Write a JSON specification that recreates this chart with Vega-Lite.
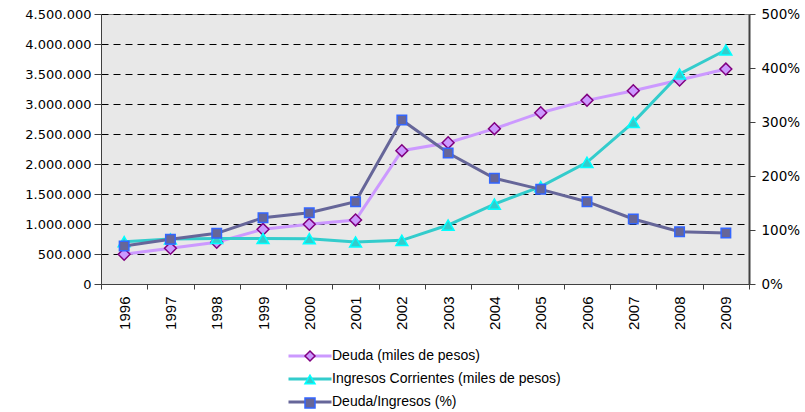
{
  "$schema": "https://vega.github.io/schema/vega-lite/v6.json",
  "width": 648,
  "height": 270,
  "autosize": {"type": "none"},
  "padding": {"left": 101, "top": 14, "right": 56, "bottom": 128},
  "background": "white",
  "config": {
    "view": {"fill": "#E8E8E8", "stroke": "#808080", "strokeWidth": 1},
    "font": "Liberation Sans"
  },
  "data": {
    "values": [
      {"year": "1996", "serie": "Deuda (miles de pesos)", "m": "a", "eje": "izq", "valor": 495000},
      {"year": "1997", "serie": "Deuda (miles de pesos)", "m": "a", "eje": "izq", "valor": 595000},
      {"year": "1998", "serie": "Deuda (miles de pesos)", "m": "a", "eje": "izq", "valor": 695000},
      {"year": "1999", "serie": "Deuda (miles de pesos)", "m": "a", "eje": "izq", "valor": 912000},
      {"year": "2000", "serie": "Deuda (miles de pesos)", "m": "a", "eje": "izq", "valor": 995000},
      {"year": "2001", "serie": "Deuda (miles de pesos)", "m": "a", "eje": "izq", "valor": 1067000},
      {"year": "2002", "serie": "Deuda (miles de pesos)", "m": "a", "eje": "izq", "valor": 2222000},
      {"year": "2003", "serie": "Deuda (miles de pesos)", "m": "a", "eje": "izq", "valor": 2355000},
      {"year": "2004", "serie": "Deuda (miles de pesos)", "m": "a", "eje": "izq", "valor": 2589000},
      {"year": "2005", "serie": "Deuda (miles de pesos)", "m": "a", "eje": "izq", "valor": 2855000},
      {"year": "2006", "serie": "Deuda (miles de pesos)", "m": "a", "eje": "izq", "valor": 3061000},
      {"year": "2007", "serie": "Deuda (miles de pesos)", "m": "a", "eje": "izq", "valor": 3222000},
      {"year": "2008", "serie": "Deuda (miles de pesos)", "m": "a", "eje": "izq", "valor": 3400000},
      {"year": "2009", "serie": "Deuda (miles de pesos)", "m": "a", "eje": "izq", "valor": 3583000},
      {"year": "1996", "serie": "Ingresos Corrientes (miles de pesos)", "m": "b", "eje": "izq", "valor": 705000},
      {"year": "1997", "serie": "Ingresos Corrientes (miles de pesos)", "m": "b", "eje": "izq", "valor": 750000},
      {"year": "1998", "serie": "Ingresos Corrientes (miles de pesos)", "m": "b", "eje": "izq", "valor": 760000},
      {"year": "1999", "serie": "Ingresos Corrientes (miles de pesos)", "m": "b", "eje": "izq", "valor": 760000},
      {"year": "2000", "serie": "Ingresos Corrientes (miles de pesos)", "m": "b", "eje": "izq", "valor": 755000},
      {"year": "2001", "serie": "Ingresos Corrientes (miles de pesos)", "m": "b", "eje": "izq", "valor": 700000},
      {"year": "2002", "serie": "Ingresos Corrientes (miles de pesos)", "m": "b", "eje": "izq", "valor": 728000},
      {"year": "2003", "serie": "Ingresos Corrientes (miles de pesos)", "m": "b", "eje": "izq", "valor": 983000},
      {"year": "2004", "serie": "Ingresos Corrientes (miles de pesos)", "m": "b", "eje": "izq", "valor": 1333000},
      {"year": "2005", "serie": "Ingresos Corrientes (miles de pesos)", "m": "b", "eje": "izq", "valor": 1622000},
      {"year": "2006", "serie": "Ingresos Corrientes (miles de pesos)", "m": "b", "eje": "izq", "valor": 2028000},
      {"year": "2007", "serie": "Ingresos Corrientes (miles de pesos)", "m": "b", "eje": "izq", "valor": 2694000},
      {"year": "2008", "serie": "Ingresos Corrientes (miles de pesos)", "m": "b", "eje": "izq", "valor": 3500000},
      {"year": "2009", "serie": "Ingresos Corrientes (miles de pesos)", "m": "b", "eje": "izq", "valor": 3900000},
      {"year": "1996", "serie": "Deuda/Ingresos (%)", "m": "c", "eje": "der", "valor": 70.4},
      {"year": "1997", "serie": "Deuda/Ingresos (%)", "m": "c", "eje": "der", "valor": 82.7},
      {"year": "1998", "serie": "Deuda/Ingresos (%)", "m": "c", "eje": "der", "valor": 93.8},
      {"year": "1999", "serie": "Deuda/Ingresos (%)", "m": "c", "eje": "der", "valor": 122.8},
      {"year": "2000", "serie": "Deuda/Ingresos (%)", "m": "c", "eje": "der", "valor": 132.0},
      {"year": "2001", "serie": "Deuda/Ingresos (%)", "m": "c", "eje": "der", "valor": 152.4},
      {"year": "2002", "serie": "Deuda/Ingresos (%)", "m": "c", "eje": "der", "valor": 303.7},
      {"year": "2003", "serie": "Deuda/Ingresos (%)", "m": "c", "eje": "der", "valor": 242.6},
      {"year": "2004", "serie": "Deuda/Ingresos (%)", "m": "c", "eje": "der", "valor": 195.7},
      {"year": "2005", "serie": "Deuda/Ingresos (%)", "m": "c", "eje": "der", "valor": 175.3},
      {"year": "2006", "serie": "Deuda/Ingresos (%)", "m": "c", "eje": "der", "valor": 152.4},
      {"year": "2007", "serie": "Deuda/Ingresos (%)", "m": "c", "eje": "der", "valor": 120.4},
      {"year": "2008", "serie": "Deuda/Ingresos (%)", "m": "c", "eje": "der", "valor": 96.9},
      {"year": "2009", "serie": "Deuda/Ingresos (%)", "m": "c", "eje": "der", "valor": 94.4}
    ]
  },
  "encoding": {
    "x": {
      "field": "year", "type": "ordinal", "title": null,
      "scale": {"paddingInner": 0, "paddingOuter": 0},
      "axis": {
        "labelAngle": -90, "labelFont": "Liberation Sans", "labelFontSize": 15, "labelColor": "#000000",
        "tickBand": "extent", "tickSize": 5, "tickColor": "#404040", "domainColor": "#404040",
        "labelPadding": 7, "grid": false
      }
    }
  },
  "layer": [
    {
      "transform": [{"filter": "datum.eje == 'izq'"}],
      "encoding": {
        "y": {
          "field": "valor", "type": "quantitative", "title": null,
          "scale": {"domain": [0, 4500000], "nice": false, "zero": true},
          "axis": {
            "orient": "left", "values": [0, 500000, 1000000, 1500000, 2000000, 2500000, 3000000, 3500000, 4000000, 4500000],
            "labelExpr": "replace(format(datum.value, ','), /,/g, '.')",
            "labelFont": "DejaVu Sans", "labelFontSize": 13, "labelColor": "#000000",
            "tickSize": 7, "tickColor": "#404040", "domainColor": "#404040", "labelPadding": 3,
            "grid": true, "gridColor": "#000000", "gridDash": [7, 5], "gridWidth": 1
          }
        }
      },
      "layer": [
        {
          "mark": {"type": "line", "strokeWidth": 3},
          "encoding": {
            "color": {
              "field": "serie", "type": "nominal",
              "scale": {"domain": ["Deuda (miles de pesos)", "Ingresos Corrientes (miles de pesos)", "Deuda/Ingresos (%)"], "range": ["#CC99FF", "#33CCCC", "#666699"]},
              "legend": {
                "orient": "none", "legendX": 202, "legendY": 335, "title": null, "direction": "vertical", "padding": 0,
                "symbolType": "M-4.3,0L4.3,0", "symbolSize": 100, "symbolStrokeWidth": 3,
                "labelFont": "Liberation Sans", "labelFontSize": 14, "labelColor": "#000000", "labelLimit": 0,
                "labelOffset": 15, "rowPadding": 9
              }
            }
          }
        },
        {
          "mark": {"type": "point", "filled": true, "size": 140, "strokeWidth": 1.5, "opacity": 1},
          "encoding": {
            "shape": {
              "field": "m", "type": "nominal", "scale": {"domain": ["a", "b", "c"], "range": ["diamond", "triangle-up", "square"]},
              "legend": {
                "orient": "none", "legendX": 202, "legendY": 335, "title": null, "direction": "vertical", "padding": 0,
                "symbolSize": 100, "symbolStrokeWidth": 1.5,
                "labelExpr": "''", "labelFontSize": 14, "labelOffset": 0, "rowPadding": 7.5
              }
            },
            "fill": {"field": "m", "type": "nominal", "scale": {"domain": ["a", "b", "c"], "range": ["#CC99FF", "#33CCCC", "#666699"]}},
            "stroke": {"field": "m", "type": "nominal", "scale": {"domain": ["a", "b", "c"], "range": ["#800080", "#00FFFF", "#3366FF"]}}
          }
        }
      ]
    },
    {
      "transform": [{"filter": "datum.eje == 'der'"}],
      "encoding": {
        "y": {
          "field": "valor", "type": "quantitative", "title": null,
          "scale": {"domain": [0, 500], "nice": false},
          "axis": {
            "orient": "right", "values": [0, 100, 200, 300, 400, 500],
            "labelExpr": "datum.value + '%'",
            "labelFont": "DejaVu Sans", "labelFontSize": 13.5, "labelColor": "#000000",
            "tickSize": 6, "tickColor": "#404040", "domainColor": "#404040", "domainWidth": 2, "labelPadding": 6,
            "grid": false
          }
        }
      },
      "layer": [
        {
          "mark": {"type": "line", "strokeWidth": 3},
          "encoding": {
            "color": {"field": "serie", "type": "nominal"}
          }
        },
        {
          "mark": {"type": "point", "filled": true, "size": 90, "strokeWidth": 1.5, "opacity": 1},
          "encoding": {
            "shape": {"field": "m", "type": "nominal"},
            "fill": {"field": "m", "type": "nominal"},
            "stroke": {"field": "m", "type": "nominal"}
          }
        }
      ]
    }
  ],
  "resolve": {"scale": {"y": "independent"}}
}
